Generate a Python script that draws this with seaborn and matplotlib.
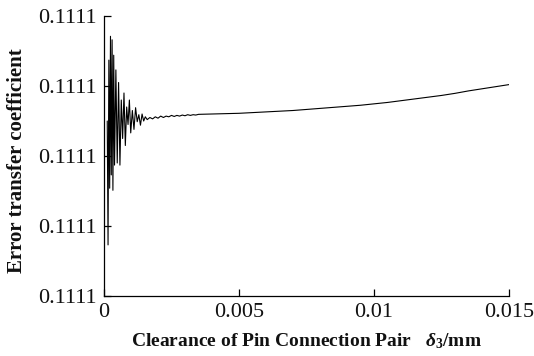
import numpy as np
import matplotlib
matplotlib.use("Agg")
import matplotlib.pyplot as plt
import pandas as pd
import seaborn as sns
from matplotlib.ticker import FormatStrFormatter, MultipleLocator

BASE = 0.1111

# clearance (mm)
clearance = [
    0.00012, 0.00015, 0.00018, 0.00021, 0.00024, 0.00027, 0.00030, 0.00033,
    0.00036, 0.00039, 0.00044, 0.00049, 0.00054, 0.00059, 0.00064, 0.00069,
    0.00074, 0.00079, 0.00084, 0.00089, 0.00094, 0.00099, 0.00105, 0.00111,
    0.00117, 0.00123, 0.00129, 0.00135, 0.00141, 0.00147, 0.00153, 0.00160,
    0.00170, 0.00180, 0.00190, 0.00200, 0.00210, 0.00220, 0.00230, 0.00240,
    0.00250, 0.00260, 0.00270, 0.00280, 0.00290, 0.00300, 0.00310, 0.00320,
    0.00330, 0.00340, 0.00350, 0.0040, 0.0045, 0.0050, 0.0055,
    0.0060, 0.0065, 0.0070, 0.0075, 0.0080, 0.0085, 0.0090, 0.0095,
    0.0100, 0.0105, 0.0110, 0.0115, 0.0120, 0.0125, 0.0130, 0.0135,
    0.0140, 0.0145, 0.0150,
]

# coefficient offset above 0.1111, in 1e-6
coef_offset = [
    25.0, 7.3, 33.7, 15.4, 37.1, 17.3, 36.6, 15.1,
    34.4, 18.7, 32.3, 19.0, 30.5, 18.7, 28.0, 22.5,
    29.0, 21.5, 27.0, 24.5, 28.0, 23.3, 26.5, 23.8,
    26.9, 24.9, 25.9, 24.4, 26.0, 25.0, 25.6, 25.2,
    25.5, 25.3, 25.6, 25.4, 25.7, 25.5, 25.7, 25.6,
    25.8, 25.65, 25.8, 25.7, 25.85, 25.75, 25.9, 25.8,
    25.9, 25.85, 25.95, 26.0, 26.05, 26.1, 26.2,
    26.3, 26.4, 26.5, 26.65, 26.8, 26.95, 27.1, 27.25,
    27.45, 27.65, 27.9, 28.15, 28.4, 28.65, 28.95, 29.3,
    29.6, 29.9, 30.2,
]

x_ticks = [0, 0.005, 0.01, 0.015]
x_tick_labels = ["0", "0.005", "0.01", "0.015"]

df = pd.DataFrame({"clearance": clearance,
                   "coef": BASE + np.array(coef_offset) * 1e-6})

sns.set_style("ticks")
plt.rcParams["font.family"] = ["Liberation Serif", "DejaVu Serif"]
plt.rcParams["mathtext.fontset"] = "custom"
plt.rcParams["mathtext.it"] = "Liberation Serif:italic:bold"
plt.rcParams["mathtext.rm"] = "Liberation Serif:bold"

fig = plt.figure(figsize=(5.34, 3.56), dpi=100)
ax = fig.add_axes([104 / 534, 1 - 296 / 356, 405 / 534, 280 / 356])

sns.lineplot(data=df, x="clearance", y="coef", color="black", lw=0.8,
             estimator=None, ax=ax)

ax.set_xlim(0, 0.015)
ax.set_ylim(BASE, BASE + 4e-5)
ax.set_xticks(x_ticks)
ax.set_xticklabels(x_tick_labels)
ax.yaxis.set_major_locator(MultipleLocator(1e-5))
ax.yaxis.set_major_formatter(FormatStrFormatter("%.4f"))
ax.tick_params(direction="in", length=5, width=0.9, labelsize=16, pad=5,
               colors="black", labelcolor="#111111")
sns.despine(ax=ax)
for sp in ["left", "bottom"]:
    ax.spines[sp].set_linewidth(0.9)
    ax.spines[sp].set_color("black")

ax.set_xlabel(r"Clearance of Pin Connection Pair   $\delta_{3}$/mm",
              fontsize=14, fontweight="bold", labelpad=7, color="#111111")
ax.set_ylabel("Error transfer coefficient", fontsize=15, fontweight="bold",
              color="#111111")
ax.yaxis.set_label_coords(-0.19, 0.485)

fig.savefig("out.png", dpi=100)
